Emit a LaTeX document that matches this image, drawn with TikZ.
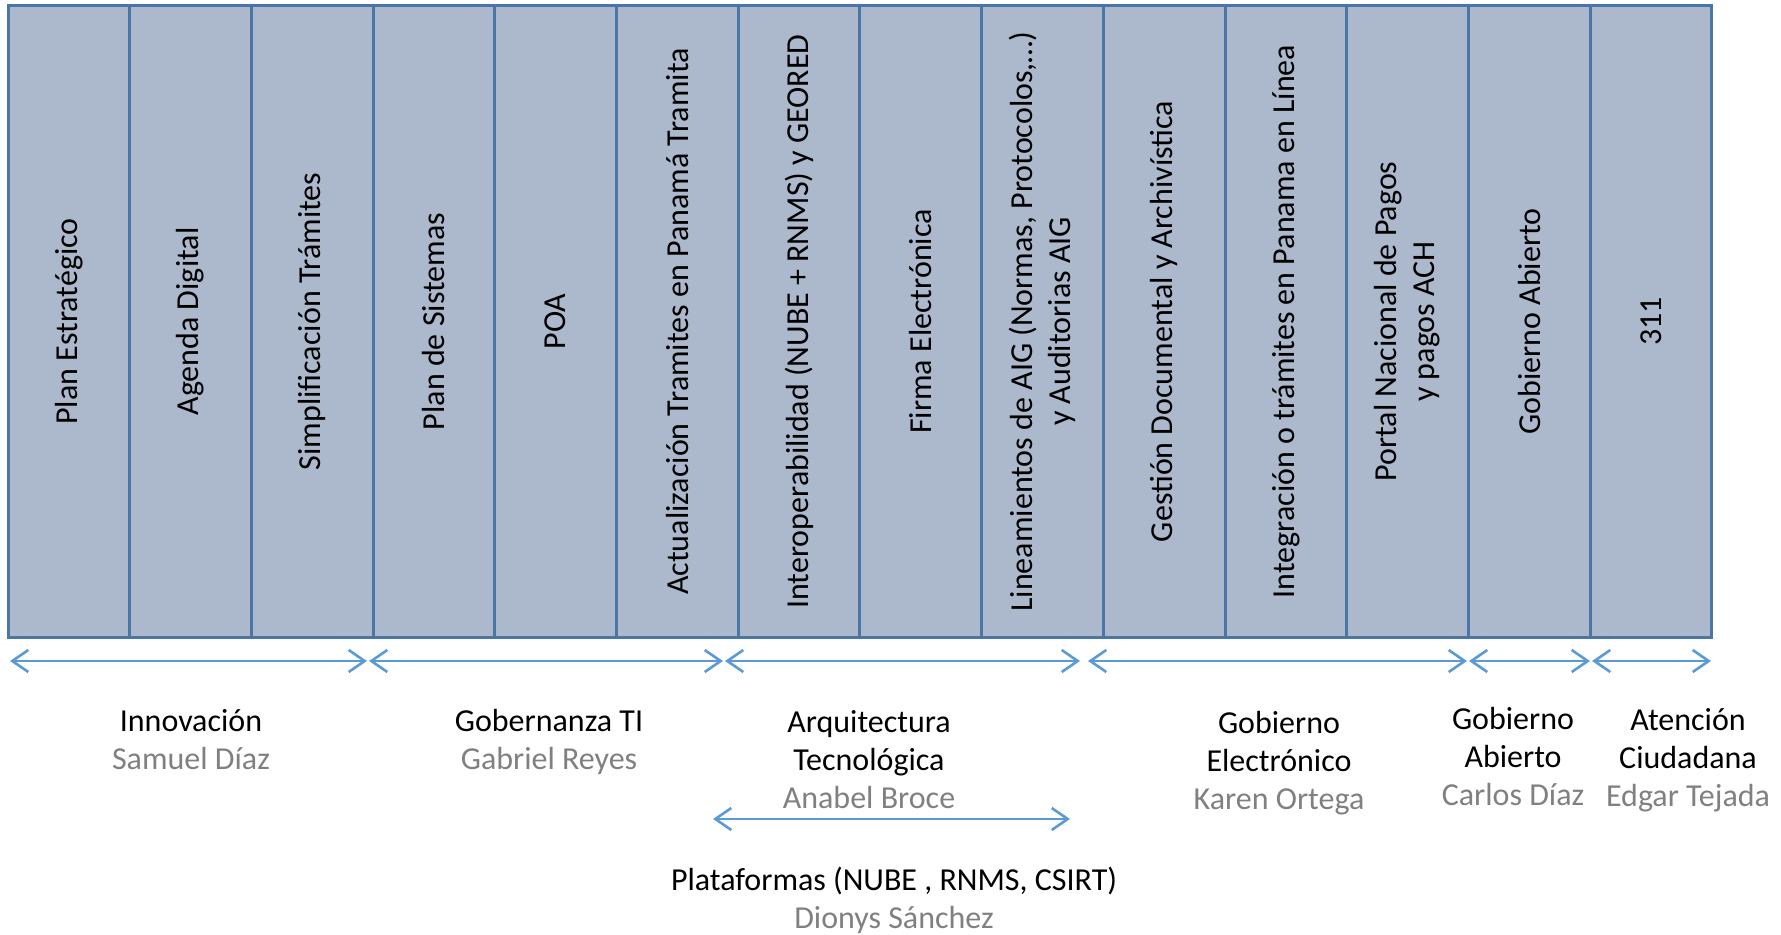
\documentclass[tikz,border=0pt]{standalone}
\usepackage{fontspec}
\setmainfont{Carlito}
\usetikzlibrary{calc}
\usetikzlibrary{arrows.meta}

\definecolor{cellfill}{HTML}{ACB8CB}
\definecolor{cellline}{HTML}{4A76A6}
\definecolor{arrowblue}{HTML}{5B9BD5}
\definecolor{namegray}{HTML}{808080}

\tikzset{
  cell/.style={fill=cellfill, draw=cellline, line width=1.5pt},
  coltext/.style={rotate=90, align=center, font=\fontsize{16}{19}\selectfont},
  lbl/.style={align=center, font=\fontsize{16}{19}\selectfont},
  span/.style={draw=arrowblue, line width=1.3pt, {Straight Barb[length=8pt,width=11pt]}-{Straight Barb[length=8pt,width=11pt]}}
}
\newcommand{\who}[1]{\textcolor{namegray}{#1}}

\begin{document}
\begin{tikzpicture}[x=0.5pt, y=-0.5pt]
        \useasboundingbox (0,0) rectangle (1781,935);
        \def\colw{121.7}  % width of one column
        \def\midy{321.5}  % middle of the columns

        % Draw the columns
        \foreach \i in {0,...,13}
          \draw[cell] ({8+\i*\colw},6) rectangle ++(\colw,631);

        % Column texts
        \node[coltext] (plan)   at (68.85,\midy)   {Plan Estratégico};
        \node[coltext] (agenda) at (190.55,\midy)  {Agenda Digital};
        \node[coltext] (simpl)  at (312.25,\midy)  {Simplificación Trámites};
        \node[coltext] (sist)   at (433.95,\midy)  {Plan de Sistemas};
        \node[coltext] (poa)    at (555.65,\midy)  {POA};
        \node[coltext] (actual) at (677.35,\midy)  {Actualización Tramites en Panamá Tramita};
        \node[coltext] (inter)  at (799.05,\midy)  {Interoperabilidad (NUBE + RNMS) y GEORED};
        \node[coltext] (firma)  at (920.75,\midy)  {Firma Electrónica};
        \node[coltext] (linea)  at (1042.45,\midy) {Lineamientos de AIG (Normas, Protocolos,…)\\y Auditorias AIG};
        \node[coltext] (gestion) at (1164.15,\midy) {Gestión Documental y Archivística};
        \node[coltext] (integ)  at (1285.85,\midy) {Integración o trámites en Panama en Línea};
        \node[coltext] (portal) at (1407.55,\midy) {Portal Nacional de Pagos\\y pagos ACH};
        \node[coltext] (abierto) at (1529.25,\midy) {Gobierno Abierto};
        \node[coltext] (tres)   at (1650.95,\midy) {311};

        % Arrow ends
        \coordinate (a0) at (10,661);   \coordinate (a1) at (367,661);
        \coordinate (b0) at (369,661);  \coordinate (b1) at (723,661);
        \coordinate (c0) at (725,661);  \coordinate (c1) at (1080,661);
        \coordinate (d0) at (1088,661); \coordinate (d1) at (1467,661);
        \coordinate (e0) at (1469,661); \coordinate (e1) at (1590,661);
        \coordinate (f0) at (1592,661); \coordinate (f1) at (1711,661);
        \coordinate (g0) at (713,819);  \coordinate (g1) at (1070,819);

        % Draw the spans
        \draw[span] (a0) -- (a1);
        \draw[span] (b0) -- (b1);
        \draw[span] (c0) -- (c1);
        \draw[span] (d0) -- (d1);
        \draw[span] (e0) -- (e1);
        \draw[span] (f0) -- (f1);
        \draw[span] (g0) -- (g1);

        % Area labels
        \node[lbl] (innov) at (191,740)  {Innovación\\\who{Samuel Díaz}};
        \node[lbl] (gob)   at (549,742)  {Gobernanza TI\\\who{Gabriel Reyes}};
        \node[lbl] (arq)   at (869,760)  {Arquitectura\\Tecnológica\\\who{Anabel Broce}};
        \node[lbl] (egov)  at (1279,763) {Gobierno\\Electrónico\\\who{Karen Ortega}};
        \node[lbl] (open)  at (1513,756) {Gobierno\\Abierto\\\who{Carlos Díaz}};
        \node[lbl] (aten)  at (1688,760) {Atención\\Ciudadana\\\who{Edgar Tejada}};
        \node[lbl] (plat)  at (894,900)  {Plataformas (NUBE , RNMS, CSIRT)\\\who{Dionys Sánchez}};
\end{tikzpicture}
\end{document}
